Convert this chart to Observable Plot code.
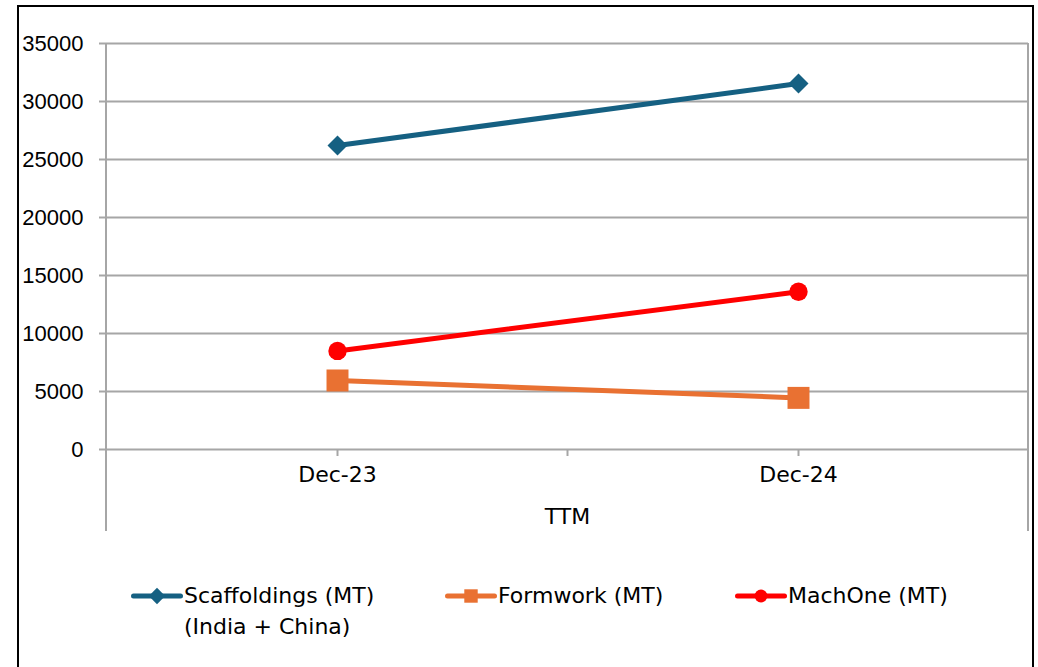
<!DOCTYPE html>
<html><head><meta charset="utf-8">
<script src="https://cdn.jsdelivr.net/npm/d3@7"></script>
<script src="https://cdn.jsdelivr.net/npm/@observablehq/plot@0.6"></script>
<style>
body{margin:0;background:#fff;width:1038px;height:667px;overflow:hidden;position:relative;font-family:"DejaVu Sans",sans-serif;color:#000;}
#frame{position:absolute;left:17px;top:5px;width:1017px;height:720px;border:2px solid #000;box-sizing:border-box;pointer-events:none;}
#chart{position:absolute;left:0;top:0;}
.lg{position:absolute;font-size:22px;line-height:31px;white-space:nowrap;}
.sw{position:absolute;}
</style></head>
<body>
<div id="chart"></div>
<div id="legend"></div>
<div id="frame"></div>
<script>
const categories = ["Dec-23", "Dec-24"];
const seriesNames = ["Scaffoldings (MT) (India + China)", "Formwork (MT)", "MachOne (MT)"];
const scaffoldings = [26200, 31550];
const formwork = [5950, 4450];
const machOne = [8500, 13600];
const yTicks = [0, 5000, 10000, 15000, 20000, 25000, 30000, 35000];
const axisTitle = "TTM";
const colors = ["#156082", "#E97132", "#FF0000"];
const symbols = ["diamond2", "square", "circle"];
const radii = [9, 12.4, 9.2];

const seriesValues = [scaffoldings, formwork, machOne];
const rows = [];
seriesNames.forEach((s, i) => categories.forEach((c, j) => rows.push({series: s, category: c, value: seriesValues[i][j]})));

const font = '"DejaVu Sans", sans-serif';
const plot = Plot.plot({
  width: 1038, height: 545,
  marginLeft: 106, marginRight: 10, marginTop: 43, marginBottom: 96,
  style: {fontFamily: font, fontSize: "22px", color: "#000", background: "transparent", overflow: "visible"},
  x: {type: "point", domain: categories, padding: 0.5},
  y: {domain: [0, 35000]},
  color: {domain: seriesNames, range: colors},
  marks: [
    Plot.gridY(yTicks, {stroke: "#a6a6a6", strokeOpacity: 1, strokeWidth: 2}),
    Plot.axisY(yTicks, {tickSize: 7, tickPadding: 16, stroke: "#a6a6a6", strokeWidth: 2, label: null, tickFormat: d => String(d), fontFamily: '"Liberation Sans", Arial, sans-serif', fontSize: 22}),
    Plot.axisX({tickSize: 7, tickPadding: 10, stroke: "#a6a6a6", strokeWidth: 2, label: null, fontSize: 22}),
    Plot.text([axisTitle], {frameAnchor: "bottom", dy: 67, lineAnchor: "middle", fontSize: 22}),
    Plot.line(rows, {x: "category", y: "value", z: "series", stroke: "series", strokeWidth: 5}),
    ...seriesNames.map((s, i) => Plot.dot(rows.filter(d => d.series === s), {x: "category", y: "value", symbol: () => symbols[i], r: radii[i], fill: colors[i], stroke: "none"}))
  ]
});
document.getElementById("chart").appendChild(plot);

// category boundary lines and ticks
const sx = plot.scale("x"), sy = plot.scale("y");
const svg = d3.select(plot);
const left = 106, right = 1038 - 10;
const yTop = sy.apply(35000), yBase = sy.apply(0);
const g = svg.append("g").attr("stroke", "#a6a6a6").attr("stroke-width", 2);
[left, right].forEach(x => g.append("line").attr("x1", x).attr("x2", x).attr("y1", yTop).attr("y2", yBase + 82));
const mid = (sx.apply(categories[0]) + sx.apply(categories[1])) / 2;
[mid].forEach(x => g.append("line").attr("x1", x).attr("x2", x).attr("y1", yBase).attr("y2", yBase + 7));

// legend
const leg = d3.select("#legend");
const items = [
  {x: 131, lines: ["Scaffoldings (MT)", "(India + China)"]},
  {x: 445, lines: ["Formwork (MT)"]},
  {x: 735, lines: ["MachOne (MT)"]}
];
const lgSym = [d3.symbolDiamond2, d3.symbolSquare, d3.symbolCircle];
const lgSize = [170, 180, 130];
items.forEach((it, i) => {
  const s = leg.append("svg").attr("class", "sw").style("left", it.x + "px").style("top", "586px").attr("width", 52).attr("height", 20);
  s.append("line").attr("x1", 2.5).attr("x2", 49.5).attr("y1", 10).attr("y2", 10).attr("stroke", colors[i]).attr("stroke-width", 5).attr("stroke-linecap", "round");
  s.append("path").attr("transform", "translate(26,10)").attr("d", d3.symbol(lgSym[i], lgSize[i])()).attr("fill", colors[i]);
  leg.append("div").attr("class", "lg").style("left", (it.x + 53) + "px").style("top", "580px").html(it.lines.join("<br>"));
});
</script>
</body></html>
